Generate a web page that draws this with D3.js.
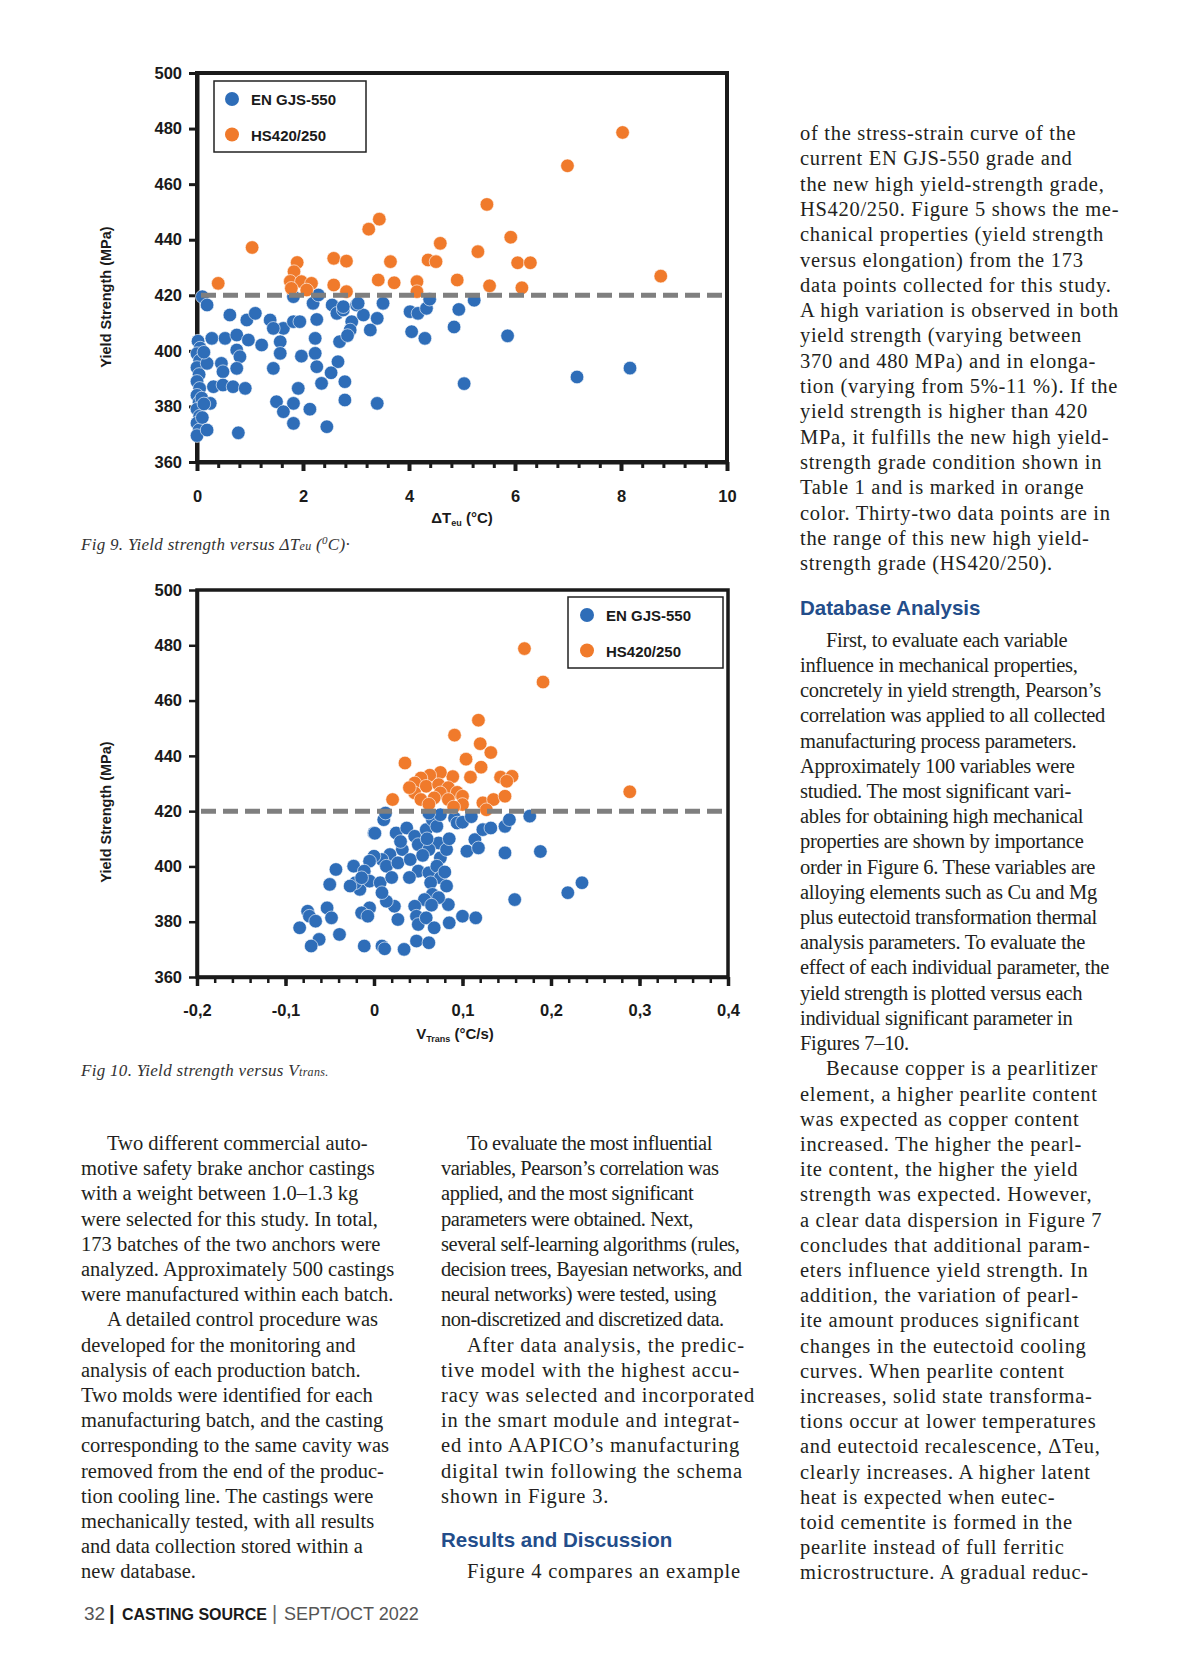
<!DOCTYPE html>
<html>
<head>
<meta charset="utf-8">
<script src="https://cdn.jsdelivr.net/npm/d3@7"></script>
<style>
  body { margin: 0; background: #fff; }
  svg { display: block; }
</style>
</head>
<body>
<svg id="page" width="1200" height="1678"></svg>
<script>
// ---DATA---//

var yieldTicks = [360, 380, 400, 420, 440, 460, 480, 500];
var hsThreshold = 420;
var gradeNames = ["EN GJS-550", "HS420/250"];

var teuTicks = [0, 2, 4, 6, 8, 10];
var teuTickLabels = ["0", "2", "4", "6", "8", "10"];
var vtransTicks = [-0.2, -0.1, 0, 0.1, 0.2, 0.3, 0.4];
var vtransTickLabels = ["-0,2", "-0,1", "0", "0,1", "0,2", "0,3", "0,4"];

// Fig 9: [deltaTeu, yield strength]
var teuBlue = [
  [0.02, 403.5], [0.06, 401], [0.0, 399], [0.05, 396.5], [0.0, 394], [0.04, 391.5],
  [0.0, 389], [0.05, 386.5], [0.0, 384], [0.04, 381.5], [0.0, 379], [0.05, 376.5],
  [0.0, 374], [0.04, 371.5], [0.0, 369.5], [0.09, 383], [0.1, 376],
  [0.1, 419.5], [0.19, 416.5], [1.82, 419.5], [2.19, 417.1], [2.29, 420.1], [2.55, 416.5],
  [2.64, 413.5], [2.76, 414.7], [3.01, 416.5], [3.51, 417.1],
  [0.62, 412.9], [0.94, 411.1], [1.10, 413.5], [1.38, 411.1], [1.63, 408.1], [1.44, 408.1],
  [1.82, 410.5], [1.94, 410.5], [2.26, 411.3], [2.92, 410.5], [3.14, 412.9], [3.40, 411.7],
  [4.02, 414.1], [4.17, 413.5], [4.33, 415.3],
  [0.28, 404.5], [0.53, 404.5], [0.75, 405.7], [0.97, 403.9], [1.22, 402.1], [1.57, 403.3],
  [2.23, 404.5], [2.69, 403.3], [2.89, 407.5], [3.27, 407.5], [4.05, 406.9], [4.30, 404.5],
  [2.84, 405.5],
  [0.75, 400.3], [0.81, 397.9], [0.19, 395.5], [0.46, 395.5], [0.75, 393.7], [0.49, 392.5],
  [1.44, 393.7], [1.57, 399.1], [1.97, 398.1], [2.23, 399.1], [2.26, 394.3], [2.66, 396.1],
  [2.53, 392.1], [0.13, 399.5],
  [0.31, 387.1], [0.49, 387.7], [0.68, 387.1], [0.91, 386.5], [1.91, 386.5], [2.35, 388.3],
  [2.79, 388.9],
  [0.25, 381.1], [1.50, 381.7], [1.82, 381.1], [2.13, 379], [2.79, 382.3], [3.40, 381.1],
  [1.63, 378.1], [1.82, 373.9], [2.45, 372.7], [0.19, 371.5], [0.78, 370.5], [0.13, 380.9],
  [4.39, 418.6], [4.94, 414.9], [5.23, 418.2], [4.85, 408.6], [5.86, 405.4], [5.04, 388.2],
  [7.17, 390.6], [8.17, 393.8], [3.04, 417.1], [2.76, 415.9]
];

var teuOrange = [
  [0.40, 424.3], [1.04, 437.2], [1.89, 431.8], [1.83, 428.5], [1.76, 425], [1.97, 424.9],
  [2.16, 424.3], [2.07, 421.9], [1.78, 422.5],
  [2.58, 433.3], [2.82, 432.3], [2.58, 423.7], [2.82, 421.3],
  [3.65, 432.1], [3.42, 425.5], [3.72, 424.5], [4.15, 424.9], [4.15, 421.3],
  [8.03, 478.6], [6.99, 466.6], [5.47, 452.7], [3.44, 447.4], [3.24, 443.8], [4.59, 438.7],
  [5.92, 440.9], [5.30, 435.7], [4.36, 432.7], [4.51, 432.1], [6.05, 431.7], [6.29, 431.7],
  [8.75, 426.9], [4.91, 425.5], [5.52, 423.4], [6.13, 422.7]
];

// Fig 10: [Vtrans, yield strength]
var vtransBlue = [
  [0.011, 416.9], [0.013, 419.3], [0.0, 412.1], [0.025, 412.1], [0.037, 413.9], [0.046, 410.9],
  [0.059, 413.3], [0.066, 416.9], [0.071, 414.5], [0.075, 418.7], [0.062, 419.3], [0.091, 417.5],
  [0.094, 415.7], [0.114, 409.7], [0.123, 413.3], [0.132, 413.9], [0.148, 414.5], [0.153, 416.9],
  [0.176, 418.2], [0.105, 405.5], [0.118, 406.7], [0.148, 404.9], [0.188, 405.4], [0.073, 408.5],
  [0.050, 407.9], [0.062, 406.1], [0.075, 403.1], [0.082, 406.1], [0.032, 406.1], [0.018, 404.3],
  [0.009, 402.5], [0.0, 403.7], [-0.005, 401.9], [0.014, 400.1], [0.027, 401.3], [0.041, 402.5],
  [0.050, 398.3], [0.062, 397.7], [0.071, 400.1], [0.075, 395.9], [0.064, 394.1], [0.066, 389.9],
  [0.082, 392.9], [0.084, 386.2], [0.073, 388.7], [0.057, 388], [0.046, 385.6], [0.048, 382],
  [0.050, 379], [0.059, 381.4], [0.068, 377.8], [0.048, 373], [0.062, 372.4], [0.100, 382],
  [0.115, 381.4], [0.159, 388], [0.219, 390.5], [0.235, 394.1], [0.034, 370], [0.009, 371.2],
  [0.012, 370.2], [-0.011, 371.2], [0.027, 380.8], [0.023, 385.6], [0.014, 387.4], [-0.005, 385],
  [-0.014, 383.2], [-0.007, 382], [-0.016, 391.7], [-0.021, 394.1], [-0.023, 400.1], [-0.011, 398.3],
  [-0.005, 394.7], [0.007, 394.1], [0.009, 390.5], [-0.027, 392.9], [-0.014, 395.9], [-0.050, 393.5],
  [-0.043, 398.9], [-0.053, 385], [-0.048, 381.4], [-0.039, 375.4], [-0.062, 373.6], [-0.071, 371.2],
  [-0.084, 377.8], [-0.075, 383.8], [-0.073, 382], [-0.066, 380.2], [0.085, 379.6], [0.03, 409],
  [0.04, 396], [0.055, 404], [0.02, 396], [0.065, 386], [0.08, 398], [0.085, 410], [0.06, 410],
  [0.1, 416], [0.11, 418], [0.001, 412]
];

var vtransOrange = [
  [0.170, 478.8], [0.191, 466.7], [0.118, 452.9], [0.091, 447.5], [0.120, 444.4], [0.132, 441.2],
  [0.104, 438.8], [0.035, 437.4], [0.121, 435.9], [0.109, 432.3], [0.089, 432.5], [0.075, 434],
  [0.063, 433], [0.053, 432], [0.046, 430.2], [0.143, 432.3], [0.156, 432.6], [0.150, 430.8],
  [0.059, 429], [0.073, 429.6], [0.084, 428.5], [0.094, 426.8], [0.100, 425.4], [0.075, 426.6],
  [0.046, 426.6], [0.053, 424.2], [0.068, 424.8], [0.084, 424.2], [0.100, 422.4], [0.021, 424.2],
  [0.123, 423], [0.135, 424.2], [0.148, 425.4], [0.127, 420.5], [0.289, 427], [0.062, 422.5],
  [0.090, 421.5], [0.040, 428.5]
];

// ---PAGE TEXT---//

var rightTop = [
  "of the stress-strain curve of the",
  "current EN GJS-550 grade and",
  "the new high yield-strength grade,",
  "HS420/250. Figure 5 shows the me-",
  "chanical properties (yield strength",
  "versus elongation) from the 173",
  "data points collected for this study.",
  "A high variation is observed in both",
  "yield strength (varying between",
  "370 and 480 MPa) and in elonga-",
  "tion (varying from 5%-11 %). If the",
  "yield strength is higher than 420",
  "MPa, it fulfills the new high yield-",
  "strength grade condition shown in",
  "Table 1 and is marked in orange",
  "color. Thirty-two data points are in",
  "the range of this new high yield-",
  "strength grade (HS420/250)."
];
var rightMid = [
  "First, to evaluate each variable",
  "influence in mechanical properties,",
  "concretely in yield strength, Pearson’s",
  "correlation was applied to all collected",
  "manufacturing process parameters.",
  "Approximately 100 variables were",
  "studied. The most significant vari-",
  "ables for obtaining high mechanical",
  "properties are shown by importance",
  "order in Figure 6. These variables are",
  "alloying elements such as Cu and Mg",
  "plus eutectoid transformation thermal",
  "analysis parameters. To evaluate the",
  "effect of each individual parameter, the",
  "yield strength is plotted versus each",
  "individual significant parameter in",
  "Figures 7–10."
];
var rightBottom = [
  "Because copper is a pearlitizer",
  "element, a higher pearlite content",
  "was expected as copper content",
  "increased. The higher the pearl-",
  "ite content, the higher the yield",
  "strength was expected. However,",
  "a clear data dispersion in Figure 7",
  "concludes that additional param-",
  "eters influence yield strength. In",
  "addition, the variation of pearl-",
  "ite amount produces significant",
  "changes in the eutectoid cooling",
  "curves. When pearlite content",
  "increases, solid state transforma-",
  "tions occur at lower temperatures",
  "and eutectoid recalescence, ΔTeu,",
  "clearly increases. A higher latent",
  "heat is expected when eutec-",
  "toid cementite is formed in the",
  "pearlite instead of full ferritic",
  "microstructure. A gradual reduc-"
];
var leftCol = [
  "Two different commercial auto-",
  "motive safety brake anchor castings",
  "with a weight between 1.0–1.3 kg",
  "were selected for this study. In total,",
  "173 batches of the two anchors were",
  "analyzed. Approximately 500 castings",
  "were manufactured within each batch.",
  "A detailed control procedure was",
  "developed for the monitoring and",
  "analysis of each production batch.",
  "Two molds were identified for each",
  "manufacturing batch, and the casting",
  "corresponding to the same cavity was",
  "removed from the end of the produc-",
  "tion cooling line. The castings were",
  "mechanically tested, with all results",
  "and data collection stored within a",
  "new database."
];
var midColA = [
  "To evaluate the most influential",
  "variables, Pearson’s correlation was",
  "applied, and the most significant",
  "parameters were obtained. Next,",
  "several self-learning algorithms (rules,",
  "decision trees, Bayesian networks, and",
  "neural networks) were tested, using",
  "non-discretized and discretized data."
];
var midColB = [
  "After data analysis, the predic-",
  "tive model with the highest accu-",
  "racy was selected and incorporated",
  "in the smart module and integrat-",
  "ed into AAPICO’s manufacturing",
  "digital twin following the schema",
  "shown in Figure 3."
];
var midColC = ["Figure 4 compares an example"];

// ---DRAWING---//

var svg = d3.select("#page");
var blue = "#2e6db8";
var orange = "#f07a2b";
var ink = "#1a1a1a";
var sansBold = "'Liberation Sans', Arial, sans-serif";
var serif = "'Liberation Serif', 'Times New Roman', serif";

svg.append("rect").attr("width", 1200).attr("height", 1678).attr("fill", "#fff");

function drawScatter(c) {

  var x = d3.scaleLinear().domain(c.xDomain).range(c.xRange);
  var y = d3.scaleLinear().domain([360, 500]).range(c.yRange);
  var g = svg.append("g").attr("class", c.name);

  var x0 = c.xRange[0], x1 = c.xRange[1];

  // frame
  g.append("rect")
    .attr("x", x0).attr("y", y(500))
    .attr("width", x1 - x0).attr("height", y(360) - y(500))
    .attr("fill", "none").attr("stroke", ink).attr("stroke-width", c.frameW);

  // minor x ticks
  var minor = g.append("g")
    .attr("transform", "translate(0," + y(360) + ")")
    .call(d3.axisBottom(x).tickValues(c.minorTicks).tickSize(6).tickFormat("").tickSizeOuter(0));
  minor.select(".domain").remove();
  minor.selectAll("line").attr("stroke", ink).attr("stroke-width", c.minorW);

  // major x axis
  var xa = g.append("g")
    .attr("transform", "translate(0," + y(360) + ")")
    .call(d3.axisBottom(x).tickValues(c.xTicks).tickSize(9).tickPadding(c.xPad)
      .tickSizeOuter(0).tickFormat(function(d, i) { return c.xLabels[i]; }));
  xa.select(".domain").attr("stroke", ink).attr("stroke-width", c.axisW);
  xa.selectAll("line").attr("stroke", ink).attr("stroke-width", c.axisW);
  xa.selectAll("text").attr("font-family", sansBold).attr("font-weight", "bold")
    .attr("font-size", 16.5).attr("fill", ink);

  // y axis
  var ya = g.append("g")
    .attr("transform", "translate(" + x0 + ",0)")
    .call(d3.axisLeft(y).tickValues(yieldTicks).tickSize(8).tickPadding(7).tickSizeOuter(0));
  ya.select(".domain").attr("stroke", ink).attr("stroke-width", c.axisW);
  ya.selectAll("line").attr("stroke", ink).attr("stroke-width", c.yTickW);
  ya.selectAll("text").attr("font-family", sansBold).attr("font-weight", "bold")
    .attr("font-size", 16.5).attr("fill", ink);

  // points
  g.append("g").selectAll("circle").data(c.blue).join("circle")
    .attr("cx", function(d) { return x(d[0]); })
    .attr("cy", function(d) { return y(d[1]); })
    .attr("r", 6.8).attr("fill", blue)
    .attr("stroke", "#fff").attr("stroke-width", 0.6);

  g.append("g").selectAll("circle").data(c.orange).join("circle")
    .attr("cx", function(d) { return x(d[0]); })
    .attr("cy", function(d) { return y(d[1]); })
    .attr("r", 6.8).attr("fill", orange)
    .attr("stroke", "#fff").attr("stroke-width", 0.6);

  // threshold line
  g.append("line")
    .attr("x1", x0 + 4).attr("x2", x1 - 2)
    .attr("y1", y(hsThreshold)).attr("y2", y(hsThreshold))
    .attr("stroke", "#7f7f7f").attr("stroke-width", 5)
    .attr("stroke-dasharray", "15,7");

  // y title
  g.append("text")
    .attr("transform", "translate(" + c.yTitle[0] + "," + c.yTitle[1] + ") rotate(-90)")
    .attr("text-anchor", "middle").attr("dy", "0.35em")
    .attr("font-family", sansBold).attr("font-weight", "bold").attr("font-size", 14.5)
    .attr("fill", ink).text("Yield Strength (MPa)");

  // x title
  var xt = g.append("text")
    .attr("x", c.xTitle[0]).attr("y", c.xTitle[1])
    .attr("text-anchor", "middle")
    .attr("font-family", sansBold).attr("font-weight", "bold").attr("font-size", 15)
    .attr("fill", ink);
  xt.append("tspan").text(c.xTitleMain);
  xt.append("tspan").attr("font-size", 9).attr("dy", 3).text(c.xTitleSub);
  xt.append("tspan").attr("dy", -3).text(c.xTitleUnit);

  // legend
  var lg = g.append("g").attr("transform", "translate(" + c.legend[0] + "," + c.legend[1] + ")");
  lg.append("rect").attr("width", c.legend[2]).attr("height", 71)
    .attr("fill", "#fff").attr("stroke", "#222").attr("stroke-width", 1.5);
  [blue, orange].forEach(function(col, i) {
    lg.append("circle").attr("cx", c.legendDot).attr("cy", 18 + i * 35.5).attr("r", 7).attr("fill", col);
    lg.append("text").attr("x", c.legendDot + 19).attr("y", 24 + i * 35.5)
      .attr("font-family", sansBold).attr("font-weight", "bold").attr("font-size", 15)
      .attr("fill", ink).text(gradeNames[i]);
  });
}

drawScatter({
  name: "fig9",
  xDomain: [0, 10], xRange: [197, 727], yRange: [462, 73],
  xTicks: teuTicks, xLabels: teuTickLabels,
  minorTicks: d3.range(0, 26).map(function(i) { return i * 0.4; }),
  xPad: 19, frameW: 4, axisW: 4, minorW: 3, yTickW: 3,
  blue: teuBlue, orange: teuOrange,
  yTitle: [106, 297], xTitle: [462, 523],
  xTitleMain: "ΔT", xTitleSub: "eu", xTitleUnit: " (°C)",
  legend: [214, 81, 152], legendDot: 18
});

drawScatter({
  name: "fig10",
  xDomain: [-0.2, 0.4], xRange: [197, 728], yRange: [977, 590],
  xTicks: vtransTicks, xLabels: vtransTickLabels,
  minorTicks: d3.range(0, 31).map(function(i) { return -0.2 + i * 0.02; }),
  xPad: 18, frameW: 3.5, axisW: 3.5, minorW: 2.5, yTickW: 2.5,
  blue: vtransBlue, orange: vtransOrange,
  yTitle: [106, 812], xTitle: [455, 1039],
  xTitleMain: "V", xTitleSub: "Trans", xTitleUnit: " (°C/s)",
  legend: [568, 597, 155], legendDot: 19
});

// captions
function caption(yb, parts) {
  var t = svg.append("text").attr("x", 81).attr("y", yb)
    .attr("font-family", serif).attr("font-style", "italic").attr("font-size", 17)
    .attr("letter-spacing", 0.3).attr("fill", "#333");
  parts.forEach(function(p) {
    var s = t.append("tspan").text(p[0]);
    if (p[1]) s.attr("font-size", p[1]);
    if (p[2]) s.attr("dy", p[2]);
  });
}
caption(550, [["Fig 9. Yield strength versus ΔT"], ["eu", 12], [" ("], ["0", 11, -6], ["C)·", 17, 6]]);
caption(1076, [["Fig 10. Yield strength versus V"], ["trans.", 12]]);

// body text
function textBlock(lines, x, y0, step, spacing, indentFirst) {
  var g = svg.append("g").attr("font-family", serif).attr("font-size", 20.5)
    .attr("fill", "#231f20").attr("letter-spacing", spacing);
  g.selectAll("text").data(lines).join("text")
    .attr("x", function(d, i) { return (i === 0 && indentFirst) ? x + 26 : x; })
    .attr("y", function(d, i) { return y0 + i * step; })
    .text(function(d) { return d; });
}

function heading(x, yb, label) {
  svg.append("text").attr("x", x).attr("y", yb)
    .attr("font-family", sansBold).attr("font-weight", "bold").attr("font-size", 20.5)
    .attr("fill", "#234d8a").text(label);
}

var lineStep = 25.2;

textBlock(rightTop, 800, 140, 25.3, 0.7, false);
heading(800, 615, "Database Analysis");
textBlock(rightMid, 800, 646.7, lineStep, -0.3, true);
textBlock(rightBottom, 800, 1075.4, lineStep, 0.7, true);

textBlock(leftCol.slice(0, 7), 81, 1150, lineStep, 0, true);
textBlock(leftCol.slice(7), 81, 1150 + 7 * lineStep, lineStep, 0, true);

textBlock(midColA, 441, 1150, lineStep, -0.45, true);
textBlock(midColB, 441, 1150 + 8 * lineStep, lineStep, 0.8, true);
heading(441, 1547, "Results and Discussion");
textBlock(midColC, 441, 1150 + 17 * lineStep, lineStep, 0.8, true);

// footer
var ft = svg.append("g").attr("font-family", sansBold);
ft.append("text").attr("x", 84).attr("y", 1620).attr("font-size", 19).attr("fill", "#555").text("32");
ft.append("text").attr("x", 109).attr("y", 1620).attr("font-size", 20).attr("font-weight", "bold").attr("fill", ink).text("|");
ft.append("text").attr("x", 122).attr("y", 1620).attr("font-size", 16).attr("font-weight", "bold").attr("fill", ink).text("CASTING SOURCE");
ft.append("text").attr("x", 272).attr("y", 1620).attr("font-size", 20).attr("fill", "#666").text("|");
ft.append("text").attr("x", 284).attr("y", 1620).attr("font-size", 18).attr("fill", "#555").text("SEPT/OCT 2022");
</script>
</body>
</html>
